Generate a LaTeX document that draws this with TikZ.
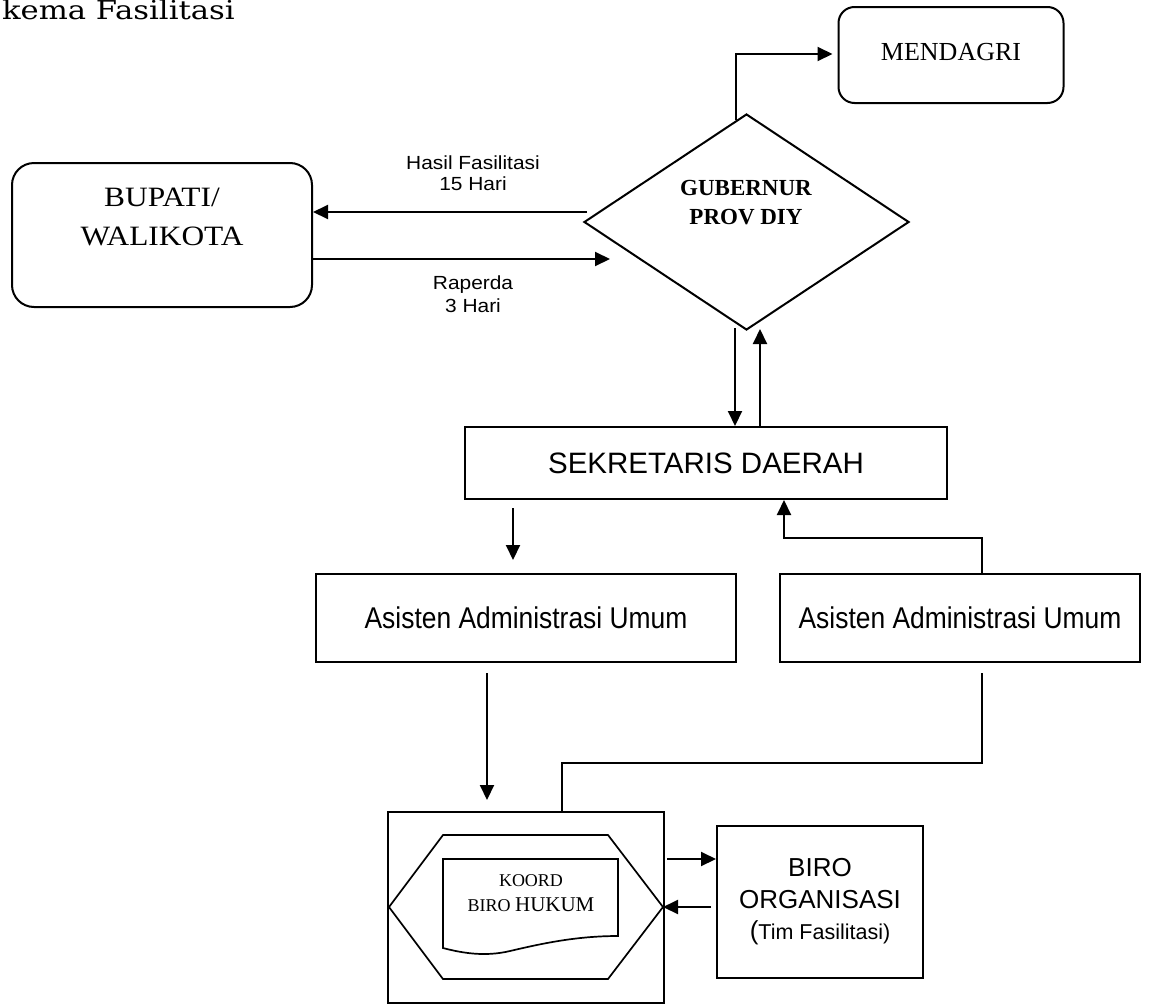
\documentclass[tikz,border=0pt]{standalone}
\usepackage{fontspec}
\setmainfont{Liberation Serif}
\newfontfamily\timesw[FakeStretch=1.12]{Liberation Serif}
\newfontfamily\arialf{Liberation Sans}
\newfontfamily\arialn[FakeStretch=0.88]{Liberation Sans}
\newfontfamily\arialw[FakeStretch=1.1]{Liberation Sans}
\newfontfamily\titlef[FakeStretch=1.18]{DejaVu Serif}
\usetikzlibrary{arrows.meta,shapes.geometric}
\begin{document}
\begin{tikzpicture}[x=1pt,y=-1pt,line width=2pt,
  arr/.style={-{Triangle[length=15pt,width=14pt]}},
  box/.style={draw,rectangle,inner sep=0pt},
  rbox/.style={draw,rectangle,rounded corners=#1,inner sep=0pt},
  txt/.style={inner sep=0pt,align=center},
  thin shape/.style={line width=1.7pt}]
\path[use as bounding box] (0,0) rectangle (1151,1004);

% title
\node[anchor=base west,inner sep=0pt] (title) at (1,19) {\titlef\fontsize{26}{30}\selectfont kema Fasilitasi};

% nodes
\node[rbox=16pt,minimum width=225pt,minimum height=96pt] (mend) at (951,55) {};
\node[txt,font=\fontsize{26}{30}\selectfont] (mendt) at (951,52) {MENDAGRI};

\node[rbox=22pt,minimum width=300pt,minimum height=144pt] (bup) at (162,235) {};
\node[txt,font=\timesw\fontsize{28}{38.3}\selectfont] (bupt) at (162,217) {BUPATI/\\WALIKOTA};

\node[draw,diamond,minimum width=325pt,minimum height=216pt,inner sep=0pt] (gub) at (746.5,222) {};
\node[txt,font=\fontsize{23}{29}\selectfont\bfseries] (gubt) at (746,203) {GUBERNUR\\PROV DIY};

\node[txt,font=\arialw\fontsize{19}{21}\selectfont] (hasil) at (473,173) {Hasil Fasilitasi\\15 Hari};
\node[txt,font=\arialw\fontsize{19}{23}\selectfont] (rap) at (473,294) {Raperda\\3 Hari};

\node[box,minimum width=482pt,minimum height=72pt,font=\arialf\fontsize{29.5}{34}\selectfont] (sek) at (706,463) {SEKRETARIS DAERAH};
\node[box,minimum width=420pt,minimum height=88pt,font=\arialn\fontsize{30}{34}\selectfont] (asl) at (526,618) {Asisten Administrasi Umum};
\node[box,minimum width=360pt,minimum height=88pt,font=\arialn\fontsize{30}{34}\selectfont] (asr) at (960,618) {Asisten Administrasi Umum};

\node[box,minimum width=276pt,minimum height=191pt] (huk) at (526,907.5) {};
\node[box,minimum width=206pt,minimum height=152pt,align=center,font=\arialf\fontsize{26}{31.5}\selectfont] (org) at (820,902)
  {BIRO\\ORGANISASI\\(\fontsize{21.5}{31.5}\selectfont Tim Fasilitasi)};

% hexagon and document shape
\coordinate (hexW) at (389,907);
\coordinate (hexE) at (663,907);
\draw[thin shape] (hexW) -- (443,835) -- (608,835) -- (hexE) -- (608,979) -- (443,979) -- cycle;
\draw[thin shape] (443,859) -- (618,859) -- (618,936)
  .. controls (575,936) and (540,944) .. (510,951)
  .. controls (485,957) and (462,953) .. (443,948) -- cycle;
\node[txt,font=\fontsize{18}{25}\selectfont] (koord) at (531,893) {KOORD\\BIRO {\fontsize{21}{25}\selectfont HUKUM}};

% connectors
\coordinate (m1) at (736,120);
\coordinate (m2) at (736,54);
\draw[arr,shorten >=5pt] (m1) -- (m2) -- (m2 -| mend.west);

\coordinate (h1) at (587,212);
\draw[arr] (h1) -- (h1 -| bup.east);
\coordinate (r1) at (610,259);
\draw[arr] (r1 -| bup.east) -- (r1);

\coordinate (d1) at (735,328);
\draw[arr] (d1) -- (d1 |- sek.north);
\coordinate (u1) at (760,329);
\draw[arr] (u1 |- sek.north) -- (u1);

\coordinate (s1) at (513,508);
\coordinate (s2) at (513,560);
\draw[arr] (s1) -- (s2);

\coordinate (k1) at (982,538);
\coordinate (k2) at (784,538);
\draw[arr] (k1 |- asr.north) -- (k1) -- (k2) -- (k2 |- sek.south);

\coordinate (a1) at (487,673);
\coordinate (a2) at (487,800);
\draw[arr] (a1) -- (a2);

\coordinate (b1) at (982,673);
\coordinate (b2) at (982,763);
\coordinate (b3) at (562,763);
\draw (b1) -- (b2) -- (b3) -- (b3 |- huk.north);

\coordinate (o1) at (667,859);
\draw[arr] (o1) -- (o1 -| org.west);
\coordinate (o2) at (711,907);
\draw[arr] (o2) -- (hexE);
\end{tikzpicture}
\end{document}
